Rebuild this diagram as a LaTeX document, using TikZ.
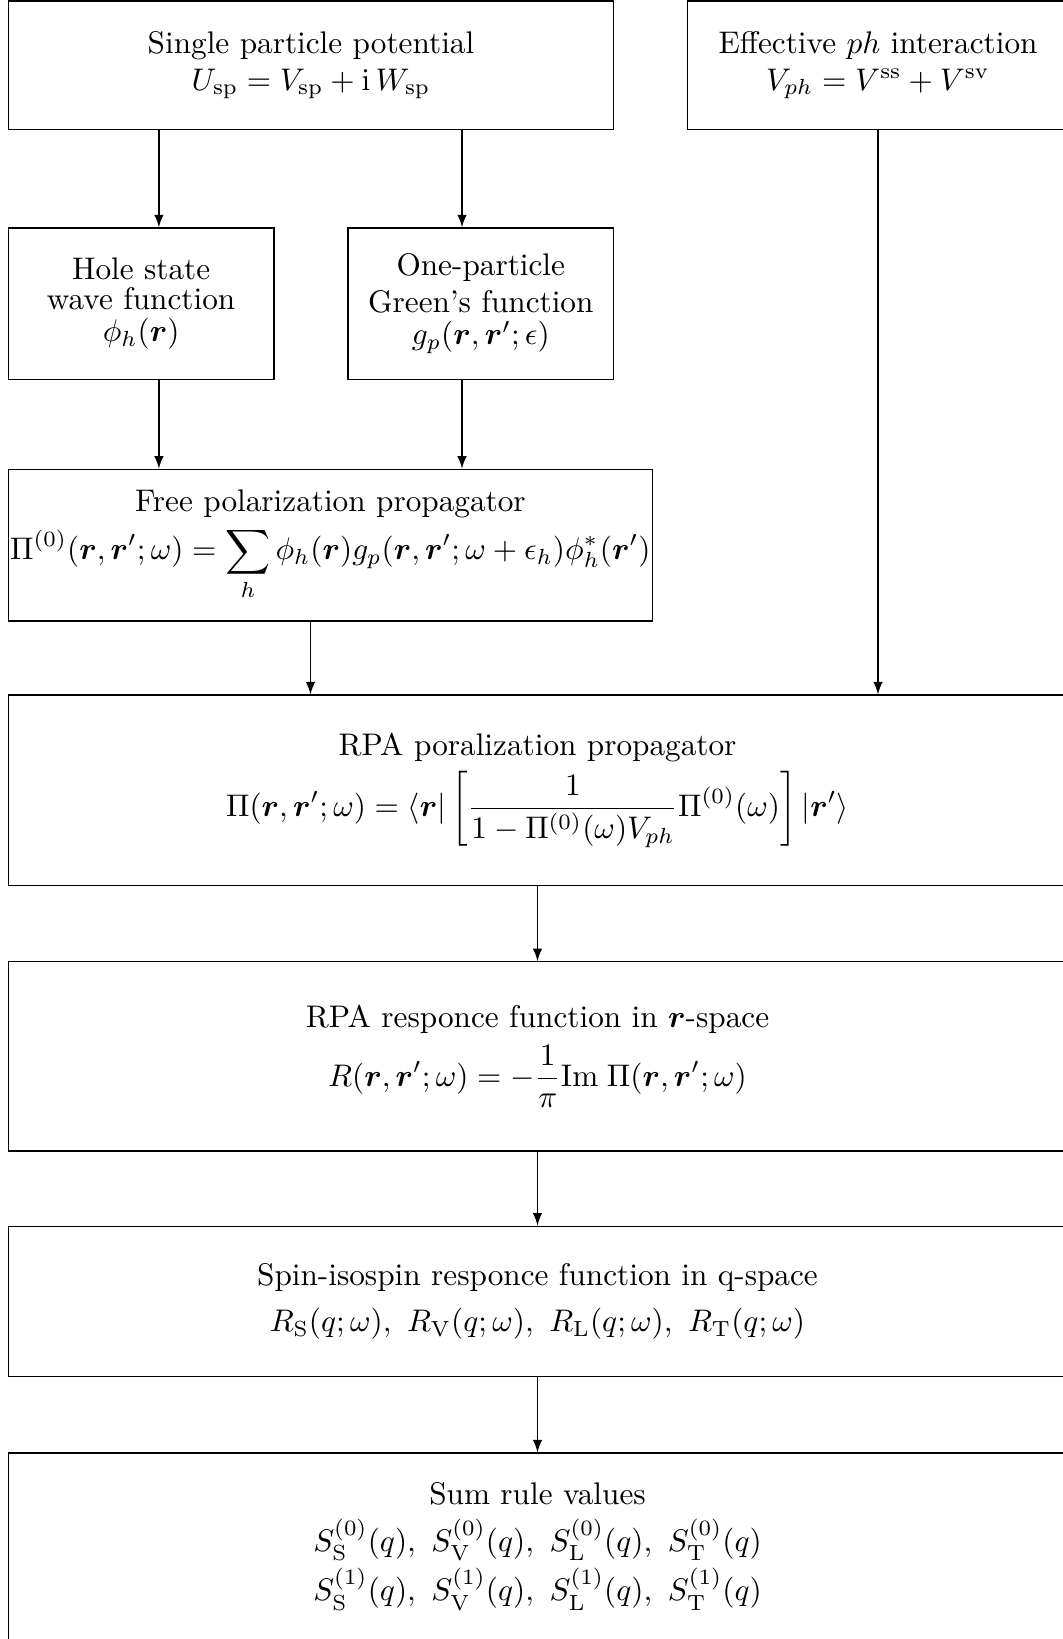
\documentclass[tikz,border=0pt]{standalone}
\usepackage{xcolor}
\usepackage{amsmath}
\usepackage{tikz}
\usepackage{amsmath, amsthm, amssymb, amsfonts}
\usetikzlibrary{arrows}

\begin{document}
\begin{tikzpicture}[x=0.32pt, y=-0.32pt,
	box/.style={draw, align=center, inner sep=0pt, font=\fontsize{10}{9.6}\selectfont},
	arr/.style={-latex}]
	\newcommand\px{0.32pt}
	\newcommand\wide{1058.2}
	\newcommand\xc{537.5}
	
	\useasboundingbox (0,0) rectangle (1062,1639);
	
	% columns of the arrows
	\coordinate (xl) at (158.9,0);
	\coordinate (xr) at (462,0);
	\coordinate (xm) at (310.5,0);
	\coordinate (xe) at (878,0);
	\coordinate (xo) at (\xc,0);
	
	\node[box, minimum width=605.2*\px, minimum height=128.6*\px] (single) at (311,65.3)
		{Single particle potential\\[2.1pt] $U_{\mathrm{sp}} = V_{\mathrm{sp}} + \mathrm{i}\,W_{\mathrm{sp}}$};
	\node[box, minimum width=380.4*\px, minimum height=128.6*\px] (effective) at (878,65.3)
		{Effective $ph$ interaction\\[2.1pt] $V_{ph} = V^{\mathrm{ss}} + V^{\mathrm{sv}}$};
	
	\node[box, minimum width=265.5*\px, minimum height=151.5*\px] (hole) at (141.15,303.65)
		{Hole state\\ wave function\\[0.6pt] $\phi_h(\boldsymbol{r})$};
	\node[box, minimum width=265.6*\px, minimum height=151.5*\px] (green) at (480.8,303.65)
		{One-particle\\[2.3pt] Green's function\\[0.6pt] $g_p(\boldsymbol{r},\boldsymbol{r}';\epsilon)$};
	
	\node[box, minimum width=643.9*\px, minimum height=151.6*\px] (free) at (330.35,545.1)
		{Free polarization propagator\\[2pt]
		$\displaystyle \Pi^{(0)}(\boldsymbol{r},\boldsymbol{r}';\omega) = \sum_h \phi_h(\boldsymbol{r}) g_p(\boldsymbol{r},\boldsymbol{r}';\omega+\epsilon_h)\phi_h^*(\boldsymbol{r}')$};
	
	\node[box, minimum width=\wide*\px, minimum height=190.4*\px] (rpaprop) at (\xc,790.2)
		{RPA poralization propagator\\[2pt]
		$\displaystyle \Pi(\boldsymbol{r},\boldsymbol{r}';\omega) = \langle\boldsymbol{r}| \left[\frac{1}{1-\Pi^{(0)}(\omega)V_{ph}}\Pi^{(0)}(\omega)\right] |\boldsymbol{r}'\rangle$};
	
	\node[box, minimum width=\wide*\px, minimum height=189.2*\px] (rparesp) at (\xc,1056.3)
		{RPA responce function in $\boldsymbol{r}$-space\\[2.8pt]
		$\displaystyle R(\boldsymbol{r},\boldsymbol{r}';\omega) = -\frac{1}{\pi}\mathrm{Im}\;\Pi(\boldsymbol{r},\boldsymbol{r}';\omega)$};
	
	\node[box, minimum width=\wide*\px, minimum height=150.5*\px] (spinresp) at (\xc,1301.45)
		{Spin-isospin responce function in q-space\\[5.1pt]
		$R_{\mathrm{S}}(q;\omega),\ R_{\mathrm{V}}(q;\omega),\ R_{\mathrm{L}}(q;\omega),\ R_{\mathrm{T}}(q;\omega)$};
	
	\node[box, minimum width=\wide*\px, minimum height=187*\px] (sumrule) at (\xc,1546.5)
		{Sum rule values\\[3.2pt]
		$S^{(0)}_{\mathrm{S}}(q),\ S^{(0)}_{\mathrm{V}}(q),\ S^{(0)}_{\mathrm{L}}(q),\ S^{(0)}_{\mathrm{T}}(q)$\\[1.5pt]
		$S^{(1)}_{\mathrm{S}}(q),\ S^{(1)}_{\mathrm{V}}(q),\ S^{(1)}_{\mathrm{L}}(q),\ S^{(1)}_{\mathrm{T}}(q)$};
	
	% arrows
	\draw[arr] (single.south -| xl) -- (hole.north -| xl);
	\draw[arr] (single.south -| xr) -- (green.north -| xr);
	\draw[arr] (hole.south -| xl) -- (free.north -| xl);
	\draw[arr] (green.south -| xr) -- (free.north -| xr);
	\draw[arr] (free.south -| xm) -- (rpaprop.north -| xm);
	\draw[arr] (effective.south -| xe) -- (rpaprop.north -| xe);
	\draw[arr] (rpaprop.south -| xo) -- (rparesp.north -| xo);
	\draw[arr] (rparesp.south -| xo) -- (spinresp.north -| xo);
	\draw[arr] (spinresp.south -| xo) -- (sumrule.north -| xo);
\end{tikzpicture}
\end{document}
